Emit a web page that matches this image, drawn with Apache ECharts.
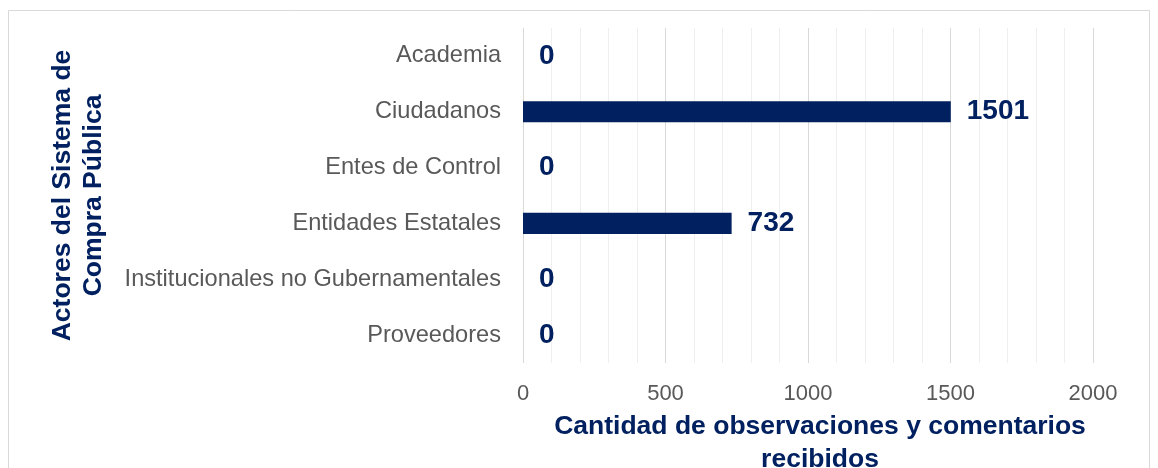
<!DOCTYPE html>
<html>
<head>
<meta charset="utf-8">
<script src="https://cdn.jsdelivr.net/npm/echarts@6/dist/echarts.min.js"></script>
<style>
  html, body { margin: 0; padding: 0; background: #fff; }
  #chart { width: 1158px; height: 468px; }
</style>
</head>
<body>
<div id="chart"></div>
<script>
var categories = ['Academia', 'Ciudadanos', 'Entes de Control', 'Entidades Estatales', 'Institucionales no Gubernamentales', 'Proveedores'];
var values = [0, 1501, 0, 732, 0, 0];
var xTicks = [0, 500, 1000, 1500, 2000];

var navy = '#002060';
var chart = echarts.init(document.getElementById('chart'));

var option = {
    animation: false,
    textStyle: { fontFamily: '"Liberation Sans", Arial, sans-serif' },
    graphic: [{
        type: 'rect',
        shape: { x: 8.5, y: 10.5, width: 1141, height: 470 },
        style: { fill: 'none', stroke: '#d9d9d9', lineWidth: 1 },
        silent: true
    }],
    grid: { left: 523, right: 65, top: 28, bottom: 105, outerBoundsMode: 'none' },
    xAxis: {
        type: 'value',
        min: xTicks[0],
        max: xTicks[xTicks.length - 1],
        interval: 500,
        axisLine: { show: false },
        axisTick: { show: false },
        axisLabel: { color: '#595959', fontSize: 22, margin: 20, formatter: function (v) { return String(v); } },
        splitLine: { show: true, lineStyle: { color: '#d9d9d9', width: 1 } },
        minorTick: { show: false, splitNumber: 5 },
        minorSplitLine: { show: true, lineStyle: { color: '#efefef', width: 1 } },
        name: 'Cantidad de observaciones y comentarios\nrecibidos',
        nameLocation: 'middle',
        nameGap: 44.5,
        nameTextStyle: { color: navy, fontSize: 26.5, fontWeight: 'bold', lineHeight: 33, verticalAlign: 'top', padding: [0, 0, 0, 24] }
    },
    yAxis: {
        type: 'category',
        inverse: true,
        data: categories,
        axisLine: { show: false },
        axisTick: { show: false },
        axisLabel: { color: '#595959', fontSize: 23.6, margin: 22 },
        name: 'Actores del Sistema de\nCompra Pública',
        nameLocation: 'middle',
        nameGap: 414,
        nameTextStyle: { color: navy, fontSize: 26.5, fontWeight: 'bold', lineHeight: 31 }
    },
    series: [{
        type: 'bar',
        data: values,
        barWidth: '38%',
        itemStyle: { color: navy },
        label: {
            show: true,
            position: 'right',
            distance: 16,
            color: navy,
            fontSize: 28,
            fontWeight: 'bold'
        }
    }]
};
chart.setOption(option);
</script>
</body>
</html>
